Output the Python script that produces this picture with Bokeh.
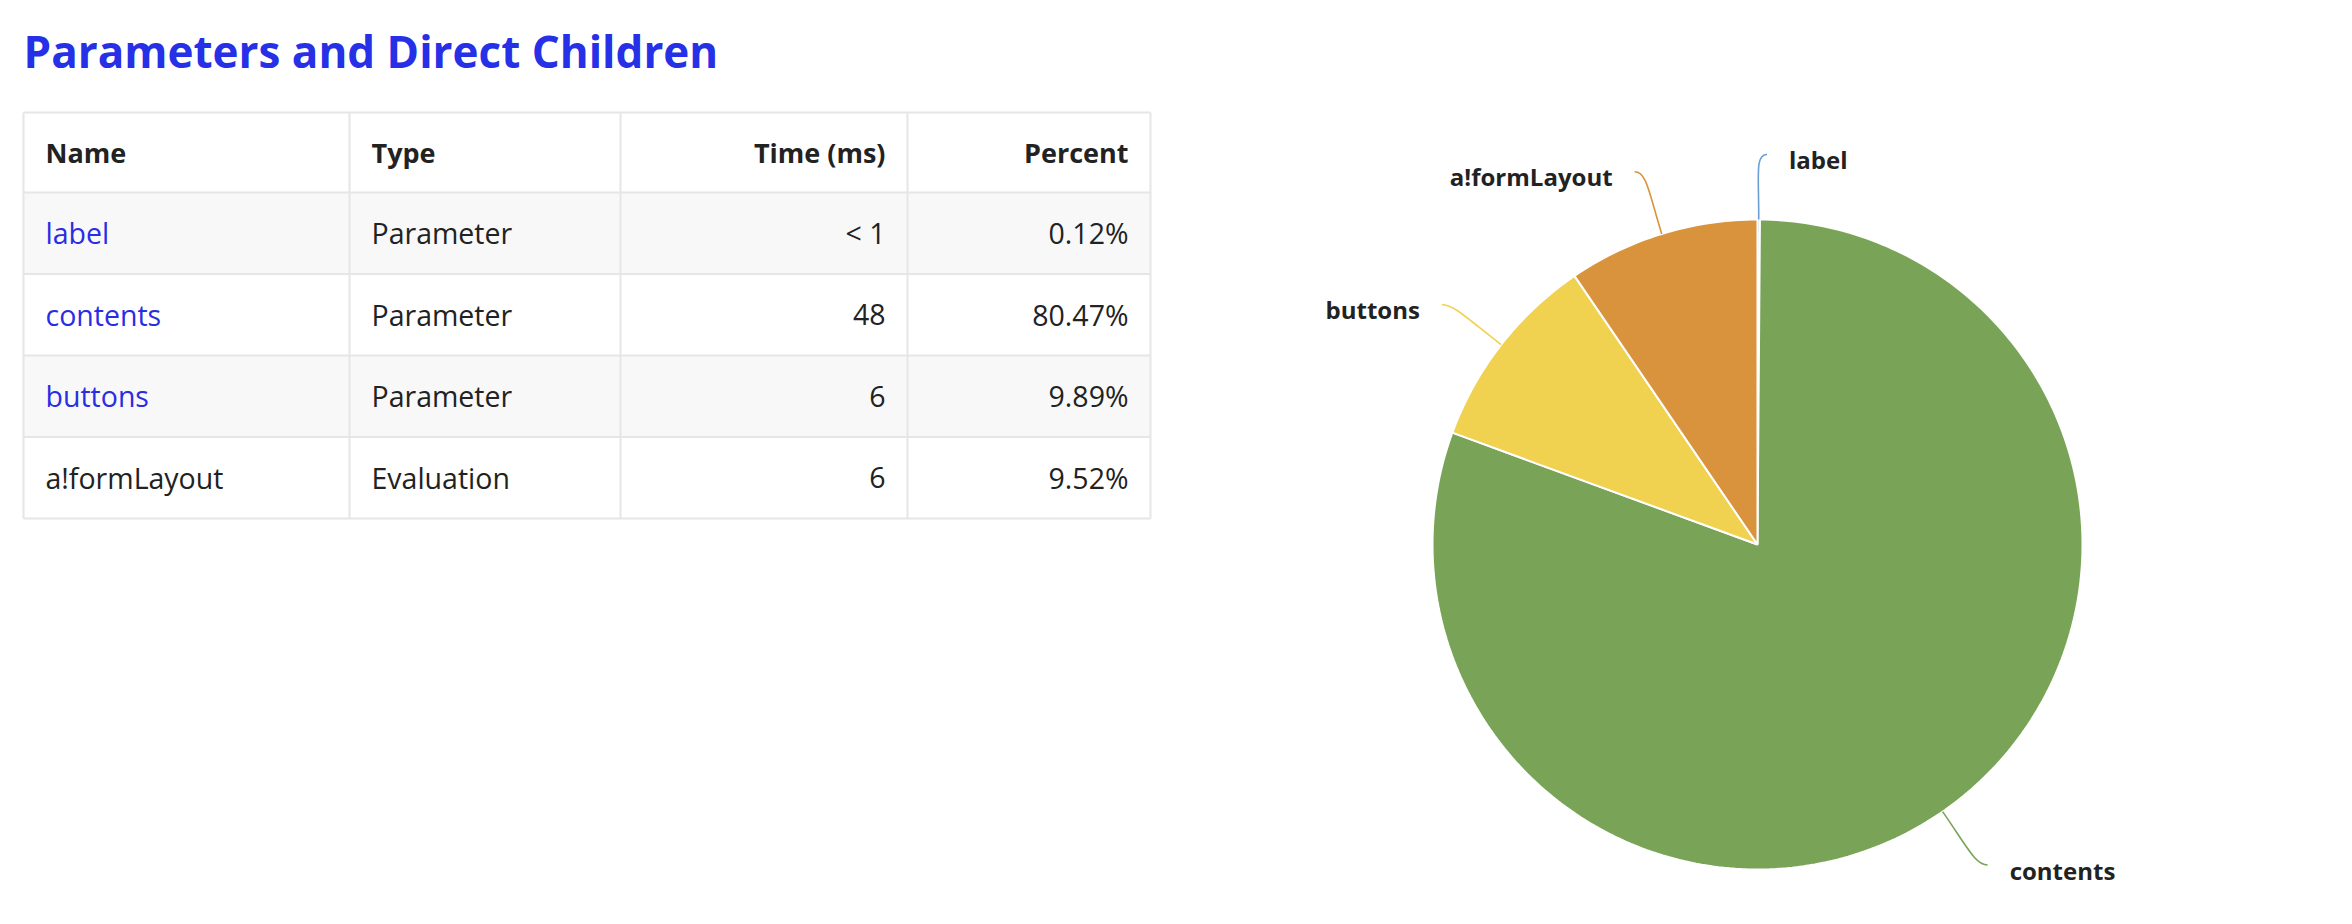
import math
from bokeh.plotting import figure
from bokeh.models import Range1d
from bokeh.core.properties import value
from bokeh.embed import file_html
from bokeh.resources import INLINE

# ---------------- data ----------------
names = ["label", "contents", "buttons", "a!formLayout"]
types = ["Parameter", "Parameter", "Parameter", "Evaluation"]
times = ["< 1", "48", "6", "6"]
percents = [0.12, 80.47, 9.89, 9.52]
is_param = [True, True, True, False]
headers = ["Name", "Type", "Time (ms)", "Percent"]
title = "Parameters and Direct Children"
slice_colors = ["#6a9fd6", "#79a457", "#f0d150", "#d9933c"]

# ---------------- style / layout ----------------
W, H = 2352, 924
FONT = "Open Sans"
TXT = "#222222"
LINK = "#2b2de3"
TITLE_C = "#2630e6"
GRID = "#e6e6e6"

col_edges = [23, 349, 620, 907, 1150]
col_align = ["left", "left", "right", "right"]
table_top = 112
header_h = 80
row_h = 81.5
pad = 22
fs_body = "28.5px"
fs_head = "27px"

p = figure(width=W, height=H, x_range=Range1d(0, W), y_range=Range1d(H, 0),
           toolbar_location=None, output_backend="svg", min_border=0)
p.axis.visible = False
p.grid.visible = False
p.outline_line_color = None
p.background_fill_color = "white"
p.border_fill_color = "white"

# title
p.text(x=[23], y=[50], text=[title], text_font=value(FONT), text_font_style="bold",
       text_font_size="44px", text_color=TITLE_C, text_baseline="middle", text_align="left")

# table row backgrounds
n = len(names)
row_tops = [table_top + header_h + i * row_h for i in range(n)]
bg = ["#f8f8f8" if i % 2 == 0 else "#ffffff" for i in range(n)]
p.quad(left=[col_edges[0]] * n, right=[col_edges[-1]] * n,
       top=row_tops, bottom=[t + row_h for t in row_tops], fill_color=bg, line_color=None)

# grid lines
table_bottom = table_top + header_h + n * row_h
hy = [table_top] + [table_top + header_h + i * row_h for i in range(n + 1)]
p.segment(x0=[col_edges[0]] * len(hy), x1=[col_edges[-1]] * len(hy), y0=hy, y1=hy,
          line_color=GRID, line_width=2)
p.segment(x0=col_edges, x1=col_edges, y0=[table_top] * len(col_edges),
          y1=[table_bottom] * len(col_edges), line_color=GRID, line_width=2)

def cell_x(ci):
    return col_edges[ci] + pad if col_align[ci] == "left" else col_edges[ci + 1] - pad

# header text
hc = table_top + header_h / 2
for ci, h in enumerate(headers):
    p.text(x=[cell_x(ci)], y=[hc], text=[h], text_font=value(FONT), text_font_style="bold",
           text_font_size=fs_head, text_color=TXT, text_baseline="middle", text_align=col_align[ci])

# body text
cols = [names, types, times, [f"{v:.2f}%" for v in percents]]
for ri in range(n):
    yc = row_tops[ri] + row_h / 2
    for ci in range(4):
        color = LINK if (ci == 0 and is_param[ri]) else TXT
        p.text(x=[cell_x(ci)], y=[yc], text=[cols[ci][ri]], text_font=value(FONT),
               text_font_size=fs_body, text_color=color, text_baseline="middle",
               text_align=col_align[ci])

# ---------------- pie ----------------
cx, cy, R = 1757, 544, 325
total = sum(percents)
cum = 0.0
xs, ys = [], []
lead = []
for v in percents:
    a0 = cum / total * 2 * math.pi
    a1 = (cum + v) / total * 2 * math.pi
    cum += v
    steps = max(2, int((a1 - a0) / (2 * math.pi) * 360))
    px = [cx]
    py = [cy]
    for k in range(steps + 1):
        a = a0 + (a1 - a0) * k / steps
        px.append(cx + R * math.sin(a))
        py.append(cy - R * math.cos(a))
    xs.append(px)
    ys.append(py)
    mid = (a0 + a1) / 2
    if mid > math.pi:
        mid -= 2 * math.pi
    lead.append(mid)

p.patches(xs=xs, ys=ys, fill_color=slice_colors, line_color="white", line_width=2)

for i, mid in enumerate(lead):
    s, c = math.sin(mid), math.cos(mid)
    side = 1 if s >= 0 else -1
    x0, y0 = cx + R * s, cy - R * c
    cx0, cy0 = cx + (R + 45) * s, cy - (R + 45) * c
    x1, y1 = cx + (R + 65) * s + side * 8, cy - (R + 65) * c
    cx1, cy1 = x1 - side * 12, y1
    p.bezier(x0=[x0], y0=[y0], x1=[x1], y1=[y1], cx0=[cx0], cy0=[cy0], cx1=[cx1], cy1=[cy1],
             line_color=slice_colors[i], line_width=1.6)
    p.text(x=[x1 + side * 22], y=[y1 + 5], text=[names[i]], text_font=value(FONT),
           text_font_style="bold", text_font_size="24px", text_color=TXT,
           text_baseline="middle", text_align="left" if side > 0 else "right")

open("out.html", "w").write(file_html(p, INLINE))
